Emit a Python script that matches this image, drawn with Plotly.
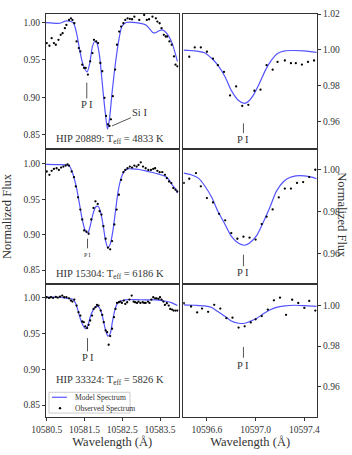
import plotly.graph_objects as go
from plotly.subplots import make_subplots

FONT = "Liberation Serif"
TXT = "#333333"
BLUE = "rgba(40,40,255,0.8)"

# ---- HIP 20889, Si I / P I region (left) ----
a_mod_wl = [10580.48, 10580.85, 10581.02, 10581.20, 10581.29, 10581.37, 10581.46, 10581.57, 10581.64, 10581.71,
            10581.77, 10581.83, 10581.90, 10581.97, 10582.04, 10582.11, 10582.16, 10582.23, 10582.32, 10582.41,
            10582.49, 10582.60, 10582.86, 10583.12, 10583.21, 10583.30, 10583.37, 10583.45, 10583.56, 10583.69,
            10583.82, 10583.96]
a_mod_fx = [0.9996, 0.9987, 1.0018, 0.9996, 0.9854, 0.9634, 0.9435, 0.9338, 0.9457, 0.9678,
            0.9744, 0.9722, 0.9545, 0.9192, 0.8839, 0.8574, 0.8706, 0.9060, 0.9457, 0.9766,
            0.9943, 0.9996, 0.9996, 0.9965, 0.9921, 0.9868, 0.9858, 0.9880, 0.9898, 0.9845,
            0.9722, 0.9479]
a_obs_wl = [10580.50, 10580.57, 10580.63, 10580.69, 10580.74, 10580.81, 10580.87, 10580.92, 10580.98, 10581.02,
            10581.09, 10581.14, 10581.18, 10581.23, 10581.29, 10581.35, 10581.39, 10581.44, 10581.49, 10581.53,
            10581.59, 10581.65, 10581.71, 10581.75, 10581.81, 10581.86, 10581.92, 10581.97, 10582.03, 10582.07,
            10582.12, 10582.16, 10582.20, 10582.25, 10582.31, 10582.36, 10582.42, 10582.47, 10582.53, 10582.58,
            10582.64, 10582.70, 10582.76, 10582.82, 10582.95, 10583.08, 10583.15, 10583.21, 10583.30, 10583.39,
            10583.43, 10583.49, 10583.54, 10583.60, 10583.65, 10583.69, 10583.75, 10583.81, 10583.87, 10583.91,
            10583.96]
a_obs_fx = [0.9722, 0.9687, 0.9788, 0.9722, 0.9700, 0.9766, 0.9832, 0.9854, 0.9921, 0.9965,
            1.0031, 1.0053, 1.0031, 0.9987, 0.9744, 0.9656, 0.9611, 0.9435, 0.9391, 0.9391,
            0.9302, 0.9479, 0.9589, 0.9766, 0.9744, 0.9722, 0.9457, 0.9347, 0.8993, 0.8751,
            0.8640, 0.8618, 0.8706, 0.9015, 0.9369, 0.9700, 0.9876, 0.9943, 0.9987, 1.0031,
            1.0053, 1.0044, 1.0040, 1.0075, 1.0031, 1.0097, 1.0031, 1.0040, 1.0075, 1.0053,
            1.0009, 0.9987, 0.9921, 0.9832, 0.9810, 0.9810, 0.9744, 0.9700, 0.9545, 0.9435,
            0.9413]

# ---- HIP 20889, P I 10596.9 (right) ----
b_mod_wl = [10596.41, 10596.50, 10596.58, 10596.64, 10596.69, 10596.75, 10596.80, 10596.86, 10596.91, 10596.94,
            10596.98, 10597.03, 10597.08, 10597.13, 10597.18, 10597.24, 10597.31, 10597.40, 10597.50]
b_mod_fx = [0.9998, 0.9994, 0.9983, 0.9951, 0.9914, 0.9848, 0.9773, 0.9716, 0.9700, 0.9711,
            0.9745, 0.9810, 0.9885, 0.9942, 0.9979, 0.9994, 0.9996, 0.9994, 0.9985]
b_obs_wl = [10596.455, 10596.50, 10596.55, 10596.60, 10596.65, 10596.69, 10596.74, 10596.79, 10596.84, 10596.89,
            10596.94, 10596.99, 10597.04, 10597.09, 10597.14, 10597.18, 10597.24, 10597.29, 10597.33, 10597.38,
            10597.43, 10597.48]
b_obs_fx = [0.9961, 1.0013, 1.0013, 0.9989, 0.9951, 0.9914, 0.9876, 0.9745, 0.9795, 0.9686,
            0.9692, 0.9771, 0.9777, 0.9914, 0.9889, 0.9932, 0.9940, 0.9925, 0.9925, 0.9917,
            0.9932, 0.9940]

# ---- HIP 15304 (left) ----
c_mod_wl = [10580.48, 10580.76, 10581.02, 10581.11, 10581.20, 10581.29, 10581.37, 10581.44, 10581.51, 10581.59,
            10581.65, 10581.72, 10581.79, 10581.86, 10581.92, 10581.99, 10582.06, 10582.12, 10582.18, 10582.25,
            10582.32, 10582.39, 10582.47, 10582.56, 10582.64, 10582.77, 10582.95, 10583.12, 10583.30, 10583.47,
            10583.65, 10583.74, 10583.82, 10583.91, 10583.96]
c_mod_fx = [0.9995, 0.9991, 0.9986, 0.9963, 0.9846, 0.9659, 0.9425, 0.9215, 0.9075, 0.9028,
            0.9121, 0.9285, 0.9388, 0.9402, 0.9332, 0.9145, 0.8911, 0.8818, 0.8864, 0.9051,
            0.9332, 0.9612, 0.9799, 0.9902, 0.9930, 0.9930, 0.9921, 0.9902, 0.9879, 0.9855,
            0.9822, 0.9776, 0.9706, 0.9645, 0.9589]
c_obs_wl = [10580.50, 10580.57, 10580.63, 10580.69, 10580.76, 10580.82, 10580.88, 10580.94, 10581.00, 10581.05,
            10581.09, 10581.16, 10581.22, 10581.27, 10581.33, 10581.39, 10581.44, 10581.49, 10581.55, 10581.61,
            10581.68, 10581.74, 10581.79, 10581.85, 10581.90, 10581.95, 10582.00, 10582.06, 10582.12, 10582.18,
            10582.23, 10582.29, 10582.35, 10582.41, 10582.47, 10582.53, 10582.58, 10582.64, 10582.70, 10582.76,
            10582.82, 10582.88, 10582.93, 10582.99, 10583.05, 10583.12, 10583.19, 10583.26, 10583.32, 10583.37,
            10583.43, 10583.49, 10583.56, 10583.63, 10583.68, 10583.74, 10583.80, 10583.85, 10583.91, 10583.96]
c_obs_fx = [0.9893, 0.9846, 0.9902, 0.9930, 0.9939, 0.9916, 0.9949, 0.9963, 0.9977, 0.9995,
            0.9977, 0.9893, 0.9813, 0.9682, 0.9528, 0.9355, 0.9215, 0.9061, 0.9042, 0.9014,
            0.9215, 0.9379, 0.9472, 0.9435, 0.9332, 0.9285, 0.9121, 0.8944, 0.8818, 0.8794,
            0.8911, 0.9145, 0.9355, 0.9565, 0.9776, 0.9883, 0.9916, 0.9939, 0.9963, 0.9949,
            0.9977, 0.9963, 0.9986, 1.0023, 0.9963, 0.9939, 0.9916, 0.9916, 0.9930, 0.9939,
            0.9902, 0.9883, 0.9883, 0.9846, 0.9799, 0.9752, 0.9729, 0.9659, 0.9636, 0.9612]

# ---- HIP 15304 (right) ----
d_mod_wl = [10596.41, 10596.47, 10596.53, 10596.58, 10596.64, 10596.69, 10596.75, 10596.80, 10596.86, 10596.91,
            10596.95, 10597.01, 10597.06, 10597.12, 10597.17, 10597.23, 10597.28, 10597.33, 10597.40, 10597.46,
            10597.50]
d_mod_fx = [0.9984, 0.9976, 0.9960, 0.9925, 0.9868, 0.9802, 0.9738, 0.9683, 0.9649, 0.9640,
            0.9651, 0.9687, 0.9746, 0.9825, 0.9897, 0.9944, 0.9963, 0.9971, 0.9971, 0.9965,
            0.9957]
d_obs_wl = [10596.41, 10596.455, 10596.51, 10596.55, 10596.60, 10596.65, 10596.70, 10596.75, 10596.80, 10596.85,
            10596.90, 10596.95, 10597.00, 10597.05, 10597.09, 10597.14, 10597.19, 10597.24, 10597.29, 10597.34,
            10597.39, 10597.44, 10597.49]
d_obs_fx = [0.9937, 0.9957, 0.9984, 0.9921, 0.9865, 0.9844, 0.9790, 0.9759, 0.9698, 0.9671,
            0.9681, 0.9676, 0.9667, 0.9741, 0.9776, 0.9811, 0.9868, 0.9910, 0.9910, 0.9937,
            0.9941, 0.9965, 1.0000]

# ---- HIP 33324 (left) ----
e_mod_wl = [10580.48, 10580.76, 10581.02, 10581.20, 10581.27, 10581.33, 10581.39, 10581.46, 10581.53, 10581.59,
            10581.65, 10581.72, 10581.79, 10581.86, 10581.92, 10581.99, 10582.06, 10582.12, 10582.18, 10582.23,
            10582.29, 10582.35, 10582.42, 10582.51, 10582.64, 10582.86, 10583.12, 10583.39, 10583.65, 10583.82,
            10583.96]
e_mod_fx = [1.0000, 1.0000, 0.9986, 0.9968, 0.9908, 0.9815, 0.9700, 0.9608, 0.9562, 0.9608,
            0.9723, 0.9815, 0.9862, 0.9871, 0.9829, 0.9700, 0.9539, 0.9460, 0.9492, 0.9631,
            0.9792, 0.9894, 0.9940, 0.9954, 0.9968, 0.9968, 0.9963, 0.9963, 0.9945, 0.9922,
            0.9885]
e_obs_wl = [10580.50, 10580.56, 10580.61, 10580.67, 10580.74, 10580.79, 10580.85, 10580.91, 10580.96, 10581.02,
            10581.09, 10581.14, 10581.18, 10581.23, 10581.29, 10581.34, 10581.39, 10581.44, 10581.48, 10581.52,
            10581.57, 10581.61, 10581.65, 10581.70, 10581.74, 10581.79, 10581.83, 10581.87, 10581.93, 10581.97,
            10582.01, 10582.06, 10582.10, 10582.14, 10582.18, 10582.23, 10582.28, 10582.32, 10582.36, 10582.41,
            10582.45, 10582.49, 10582.54, 10582.58, 10582.63, 10582.69, 10582.75, 10582.80, 10582.84, 10582.89,
            10582.93, 10582.98, 10583.04, 10583.08, 10583.12, 10583.18, 10583.22, 10583.27, 10583.32, 10583.37,
            10583.41, 10583.46, 10583.50, 10583.54, 10583.59, 10583.63, 10583.68, 10583.73, 10583.77, 10583.82,
            10583.86, 10583.91, 10583.96]
e_obs_fx = [1.0000, 0.9991, 1.0000, 0.9991, 1.0005, 0.9995, 1.0009, 1.0023, 1.0000, 1.0000,
            0.9986, 0.9954, 0.9940, 0.9968, 0.9885, 0.9792, 0.9746, 0.9663, 0.9654, 0.9594,
            0.9571, 0.9617, 0.9677, 0.9746, 0.9838, 0.9862, 0.9894, 0.9885, 0.9815, 0.9755,
            0.9654, 0.9539, 0.9515, 0.9340, 0.9460, 0.9562, 0.9723, 0.9838, 0.9922, 0.9931,
            0.9940, 0.9922, 0.9954, 0.9908, 0.9931, 0.9968, 1.0023, 0.9940, 0.9931, 0.9922,
            0.9940, 0.9922, 0.9931, 0.9922, 0.9922, 0.9940, 0.9922, 0.9968, 1.0000, 0.9986,
            0.9986, 0.9977, 1.0000, 0.9968, 0.9940, 0.9894, 0.9917, 0.9885, 0.9838, 0.9829,
            0.9815, 0.9815, 0.9815]

# ---- HIP 33324 (right) ----
f_mod_wl = [10596.41, 10596.50, 10596.58, 10596.64, 10596.69, 10596.75, 10596.80, 10596.86, 10596.91, 10596.95,
            10597.01, 10597.06, 10597.12, 10597.17, 10597.24, 10597.32, 10597.40, 10597.50]
f_mod_fx = [1.0002, 1.0000, 0.9997, 0.9989, 0.9969, 0.9945, 0.9923, 0.9912, 0.9912, 0.9920,
            0.9936, 0.9957, 0.9978, 0.9990, 0.9997, 1.0000, 0.9998, 0.9995]
f_obs_wl = [10596.41, 10596.47, 10596.52, 10596.56, 10596.61, 10596.66, 10596.71, 10596.76, 10596.81, 10596.86,
            10596.91, 10596.96, 10597.00, 10597.05, 10597.10, 10597.15, 10597.20, 10597.25, 10597.30, 10597.35,
            10597.40, 10597.44, 10597.49]
f_obs_fx = [1.0010, 0.9994, 0.9965, 0.9984, 0.9968, 1.0002, 0.9984, 0.9937, 0.9939, 0.9891,
            0.9897, 0.9916, 0.9931, 0.9947, 0.9979, 1.0024, 1.0037, 0.9953, 1.0027, 1.0011,
            0.9987, 1.0021, 0.9974]

star_labels = ["HIP 20889: T<sub>eff</sub> = 4833 K",
               "HIP 15304: T<sub>eff</sub> = 6186 K",
               "HIP 33324: T<sub>eff</sub> = 5826 K"]

panels = [
    (1, 1, a_mod_wl, a_mod_fx, a_obs_wl, a_obs_fx),
    (1, 2, b_mod_wl, b_mod_fx, b_obs_wl, b_obs_fx),
    (2, 1, c_mod_wl, c_mod_fx, c_obs_wl, c_obs_fx),
    (2, 2, d_mod_wl, d_mod_fx, d_obs_wl, d_obs_fx),
    (3, 1, e_mod_wl, e_mod_fx, e_obs_wl, e_obs_fx),
    (3, 2, f_mod_wl, f_mod_fx, f_obs_wl, f_obs_fx),
]

left_ranges = [[0.8305, 1.011], [0.831, 1.0205], [0.8335, 1.019]]
right_ranges = [[0.9443, 1.0200], [0.9457, 1.0097], [0.9453, 1.0106]]
right_ticks = [[0.96, 0.98, 1.00, 1.02], [0.96, 0.98, 1.00], [0.96, 0.98, 1.00]]

fig = make_subplots(rows=3, cols=2, horizontal_spacing=0.02, vertical_spacing=0)

for row, col, mw, mf, ow, of in panels:
    fig.add_trace(go.Scatter(x=mw, y=mf, mode="lines", line=dict(color=BLUE, width=1.2, shape="spline", smoothing=0.7),
                             name="Model Spectrum", showlegend=False), row=row, col=col)
    fig.add_trace(go.Scatter(x=ow, y=of, mode="markers", marker=dict(color="black", size=2.3),
                             name="Observed Spectrum", showlegend=False), row=row, col=col)

row_domains = [[0.664, 1.0], [0.331, 0.664], [0.0, 0.331]]
axis_common = dict(showline=True, mirror=True, linecolor="#333333", linewidth=1.2, showgrid=False,
                   zeroline=False, ticks="outside", ticklen=3, tickcolor="#333333",
                   tickfont=dict(family=FONT, size=9.5, color=TXT))

for r in range(3):
    for c in range(2):
        idx = r * 2 + c + 1
        xa = "xaxis" if idx == 1 else f"xaxis{idx}"
        ya = "yaxis" if idx == 1 else f"yaxis{idx}"
        xdom = [0, 0.489] if c == 0 else [0.5066, 1.0]
        xd = dict(axis_common, domain=xdom)
        if c == 0:
            xd.update(range=[10580.48, 10583.99], tickvals=[10580.5, 10581.5, 10582.5, 10583.5],
                      ticktext=["10580.5", "10581.5", "10582.5", "10583.5"])
        else:
            xd.update(range=[10596.406, 10597.504], tickvals=[10596.6, 10597.0, 10597.4],
                      ticktext=["10596.6", "10597.0", "10597.4"])
        if r < 2:
            xd.update(showticklabels=False, ticks="")
        else:
            xd.update(title=dict(text="Wavelength (Å)", font=dict(family=FONT, size=12.5, color=TXT), standoff=3))
        yd = dict(axis_common, domain=row_domains[r])
        if c == 0:
            yd.update(range=left_ranges[r], tickvals=[0.85, 0.90, 0.95, 1.00],
                      ticktext=["0.85", "0.90", "0.95", "1.00"])
        else:
            yd.update(range=right_ranges[r], side="right", tickvals=right_ticks[r],
                      ticktext=[f"{v:.2f}" for v in right_ticks[r]])
        fig.layout[xa].update(xd)
        fig.layout[ya].update(yd)

# line labels: (xref, yref, x, text y, line y0, line y1, font size)
line_labels = [
    ("x", "y", 10581.56, 0.8905, 0.9196, 0.8984, 10.5),
    ("x2", "y2", 10596.90, 0.9497, 0.9589, 0.9534, 10.5),
    ("x3", "y3", 10581.58, 0.8710, 0.8944, 0.8808, 6),
    ("x4", "y4", 10596.90, 0.9511, 0.9595, 0.9540, 10.5),
    ("x5", "y5", 10581.58, 0.9169, 0.9432, 0.9248, 10.5),
    ("x6", "y6", 10596.90, 0.9704, 0.9796, 0.9743, 10.5),
]
for xr, yr, x, ty, y0, y1, fs in line_labels:
    fig.add_shape(type="line", xref=xr, yref=yr, x0=x, x1=x, y0=y0, y1=y1,
                  line=dict(color="#555555", width=1))
    fig.add_annotation(xref=xr, yref=yr, x=x, y=ty, text="P I", showarrow=False,
                       font=dict(family=FONT, size=fs, color=TXT))

fig.add_shape(type="line", xref="x", yref="y", x0=10582.23, x1=10582.73, y0=0.8618, y1=0.8728,
              line=dict(color="#555555", width=1))
fig.add_annotation(xref="x", yref="y", x=10582.95, y=0.880, text="Si I", showarrow=False,
                   font=dict(family=FONT, size=10.5, color=TXT))

for (yr, ty), lab in zip([("y", 0.8433), ("y3", 0.8444), ("y5", 0.8846)], star_labels):
    xr = "x" + yr[1:]
    fig.add_annotation(xref=xr, yref=yr, x=10582.18, y=ty, text=lab, showarrow=False,
                       font=dict(family=FONT, size=10.5, color=TXT))

# y titles
fig.add_annotation(xref="paper", yref="paper", x=-0.146, y=0.5, xanchor="center", yanchor="middle",
                   text="Normalized Flux", textangle=-90,
                   showarrow=False, font=dict(family=FONT, size=12.5, color=TXT))
fig.add_annotation(xref="paper", yref="paper", x=1.093, y=0.5, xanchor="center", yanchor="middle",
                   text="Normalized Flux", textangle=90,
                   showarrow=False, font=dict(family=FONT, size=12.5, color=TXT))

# legend box drawn by hand (plotly's legend rows are too tall for this size)
fig.add_shape(type="rect", xref="paper", yref="paper", x0=0.011, x1=0.310, y0=0.0098, y1=0.0613,
              fillcolor="white", line=dict(color="#cccccc", width=1))
fig.add_shape(type="line", xref="paper", yref="paper", x0=0.022, x1=0.077, y0=0.049, y1=0.049,
              line=dict(color=BLUE, width=1.2))
fig.add_shape(type="circle", xref="paper", yref="paper", xsizemode="pixel", ysizemode="pixel",
              xanchor=0.0517, yanchor=0.022, x0=-1.2, x1=1.2, y0=-1.2, y1=1.2,
              fillcolor="black", line=dict(width=0))
fig.add_annotation(xref="paper", yref="paper", x=0.0996, y=0.049, xanchor="left", yanchor="middle",
                   text="Model Spectrum", showarrow=False, font=dict(family=FONT, size=7.6, color=TXT))
fig.add_annotation(xref="paper", yref="paper", x=0.0996, y=0.022, xanchor="left", yanchor="middle",
                   text="Observed Spectrum", showarrow=False, font=dict(family=FONT, size=7.6, color=TXT))

fig.update_layout(
    width=352, height=455,
    margin=dict(l=46, r=35, t=9, b=38),
    plot_bgcolor="white", paper_bgcolor="white",
    font=dict(family=FONT, color=TXT),
    showlegend=False,
)

fig.write_html("out.html", config={"displayModeBar": False},
               post_script="document.body.style.margin='0px';")
